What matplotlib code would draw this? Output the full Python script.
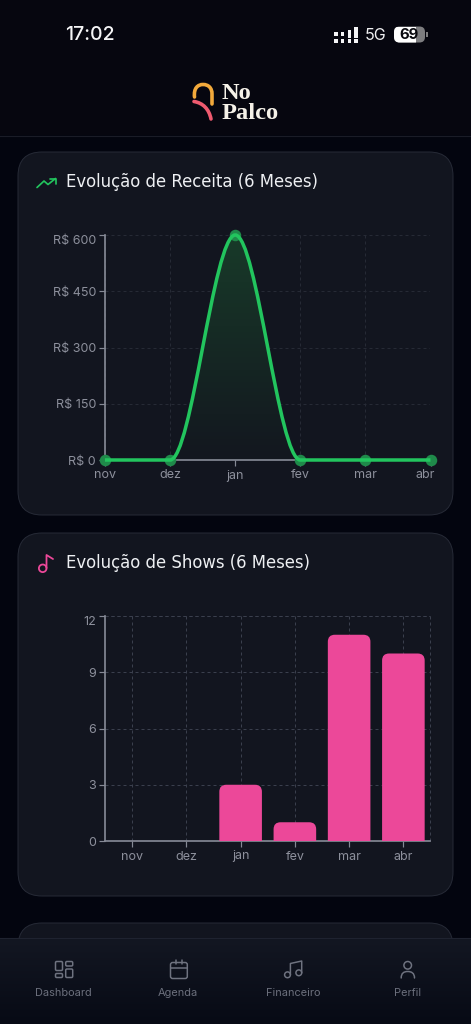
import numpy as np
import matplotlib
matplotlib.use('Agg')
import matplotlib.pyplot as plt
from matplotlib.patches import FancyBboxPatch, PathPatch, Circle, Rectangle
from matplotlib.path import Path
from matplotlib.transforms import ScaledTranslation

months = ['nov', 'dez', 'jan', 'fev', 'mar', 'abr']
receita = [0, 0, 600, 0, 0, 0]
shows = [0, 0, 3, 1, 11, 10]
receita_ticks = [0, 150, 300, 450, 600]
receita_labels = ['R$ 0', 'R$ 150', 'R$ 300', 'R$ 450', 'R$ 600']
shows_ticks = [0, 3, 6, 9, 12]
nav_labels = ['Dashboard', 'Agenda', 'Financeiro', 'Perfil']

W, H = 471, 1024
GREEN = '#22c55e'
PINK = '#ec4899'
AXIS = '#858995'
LABEL = '#8d909c'
CARD = '#12151f'
EDGE = '#262a36'
NAVTXT = '#6b6f7c'
NAVICON = '#6f7380'

plt.rcParams['font.family'] = ['Inter', 'DejaVu Sans']

fig = plt.figure(figsize=(W / 100, H / 100), dpi=100)
fig.patch.set_facecolor('#03050f')


def pt(px):
    return px * 0.72


def stroke(ax, xs, ys, color, width, z=3):
    ax.plot(xs, ys, color=color, lw=pt(width), solid_capstyle='round',
            solid_joinstyle='round', zorder=z)


def curve(ax, verts, color, width, z=3):
    # verts: first point then triples of bezier points
    codes = [Path.MOVETO] + [Path.CURVE4] * (len(verts) - 1)
    ax.add_patch(PathPatch(Path(verts, codes), fc='none', ec=color, lw=pt(width),
                           capstyle='round', zorder=z))


def box(ax, x0, y0, x1, y1, r, fc='none', ec='none', lw=1.0, z=2):
    ax.add_patch(FancyBboxPatch((x0 + r, y0 + r), x1 - x0 - 2 * r, y1 - y0 - 2 * r,
                                boxstyle='round,pad=%f,rounding_size=%f' % (r, r),
                                fc=fc, ec=ec, lw=pt(lw), zorder=z))


# page chrome in pixel coords
bg = fig.add_axes([0, 0, 1, 1], zorder=0)
bg.set_xlim(0, W)
bg.set_ylim(H, 0)
bg.axis('off')

bg.add_patch(Rectangle((0, 0), W, 135, fc='#06060f', ec='none', zorder=1))
bg.plot([0, W], [135.5, 135.5], color='#1a1c27', lw=0.8, zorder=1)

box(bg, 18, 152, 453, 515, 24, fc=CARD, ec=EDGE)
box(bg, 18, 533, 453, 896, 24, fc=CARD, ec=EDGE)
box(bg, 18, 923, 453, 1000, 24, fc=CARD, ec=EDGE)

# status bar
bg.text(89.5, 35, '17:02', color='#f4f4f6', fontsize=pt(19.5), fontweight='medium',
        ha='center', va='center', zorder=5)
for cx, rows in [(336, [33.5, 40.5]), (342.5, [33.5, 40.5]), (349.5, [33, 40.5]), (356, [40.5])]:
    for cy in rows:
        bg.add_patch(Rectangle((cx - 1.8, cy - 2), 3.6, 4, fc='#f4f4f6', ec='none', zorder=5))
bg.add_patch(Rectangle((354.2, 27), 3.6, 11, fc='#f4f4f6', ec='none', zorder=5))
bg.add_patch(Rectangle((347.7, 30), 3.6, 8, fc='#f4f4f6', ec='none', zorder=5))
bg.text(376, 35, '5G', color='#f0f0f2', fontsize=pt(16), ha='center', va='center', zorder=5)
box(bg, 394, 26.5, 425, 42.5, 5.5, fc='#7d7d80', z=4)
clip = FancyBboxPatch((399.5, 32), 20, 5, boxstyle='round,pad=5.5,rounding_size=5.5',
                      fc='none', ec='none', transform=bg.transData)
bg.add_patch(clip)
white = bg.add_patch(Rectangle((394, 26.5), 21.5, 16, fc='#ffffff', ec='none', zorder=5))
white.set_clip_path(clip)
bg.add_patch(Rectangle((426, 32), 1.5, 5, fc='#7d7d80', ec='none', zorder=5))
bg.text(409.5, 35, '69', color='#0a0a10', fontsize=pt(15), fontweight='bold',
        ha='center', va='center', zorder=6)

# logo
curve(bg, [(194.5, 97), (193.5, 88), (198, 84.5), (203, 84.5),
           (208.5, 84.5), (212, 88), (212, 94), (212, 97), (212, 101), (212, 104)],
      '#f2a93b', 3.6)
curve(bg, [(194, 101.5), (203, 103), (209, 109), (211, 119)], '#ef5a6f', 3.6)
bg.text(222, 99, 'No', color='#f5f1e8', fontsize=pt(24.5), family='Liberation Serif',
        fontweight='bold', ha='left', va='baseline', zorder=5)
bg.text(222, 119, 'Palco', color='#f5f1e8', fontsize=pt(24.5), family='Liberation Serif',
        fontweight='bold', ha='left', va='baseline', zorder=5)

# card titles
bg.text(66, 182, 'Evolução de Receita (6 Meses)', color='#eef0f3', fontsize=pt(16.5),
        family='DejaVu Sans', ha='left', va='center', zorder=5)
bg.text(66, 563.5, 'Evolução de Shows (6 Meses)', color='#eef0f3', fontsize=pt(16.5),
        family='DejaVu Sans', ha='left', va='center', zorder=5)
stroke(bg, [37, 44, 48, 55.5], [187.5, 181, 184.5, 178.5], GREEN, 1.7, 5)
stroke(bg, [50, 55.5, 55.5], [178.5, 178.5, 184], GREEN, 1.7, 5)
bg.add_patch(Circle((42.7, 568.3), 3.8, fc='none', ec=PINK, lw=pt(1.8), zorder=5))
stroke(bg, [46.5, 46.5, 53], [568, 555, 559], PINK, 1.8, 5)

# bottom nav
ramp = np.linspace(0, 1, 64).reshape(-1, 1)
nav_cm = matplotlib.colors.LinearSegmentedColormap.from_list('n', ['#131722', '#070a15'])
bg.imshow(ramp, extent=(0, W, 1024, 938), aspect='auto', zorder=8, cmap=nav_cm,
          interpolation='bilinear')
bg.set_xlim(0, W)
bg.set_ylim(H, 0)
bg.plot([0, W], [938, 938], color='#1f2330', lw=0.8, zorder=9)
for x, label in zip([63.5, 178, 293, 407.5], nav_labels):
    bg.text(x, 992.5, label, color=NAVTXT, fontsize=pt(11), ha='center', va='center', zorder=10)
for x0, y0, x1, y1 in [(55.5, 961.5, 62.5, 970.5), (55.5, 973.5, 62.5, 977.5),
                       (65.7, 961.5, 72.7, 966), (65.7, 969, 72.7, 977.5)]:
    box(bg, x0, y0, x1, y1, 1.2, ec=NAVICON, lw=1.5, z=10)
box(bg, 170.5, 962.5, 187.3, 978.5, 2.2, ec=NAVICON, lw=1.5, z=10)
stroke(bg, [170.5, 187.3], [967.5, 967.5], NAVICON, 1.5, 10)
stroke(bg, [175.7, 175.7], [960, 964], NAVICON, 1.5, 10)
stroke(bg, [182.3, 182.3], [960, 964], NAVICON, 1.5, 10)
bg.add_patch(Circle((287.5, 974.8), 2.9, fc='none', ec=NAVICON, lw=pt(1.5), zorder=10))
bg.add_patch(Circle((298.8, 972.8), 2.9, fc='none', ec=NAVICON, lw=pt(1.5), zorder=10))
stroke(bg, [290.4, 290.4, 301.7, 301.7], [974.8, 963.5, 961, 972.8], NAVICON, 1.5, 10)
bg.add_patch(Circle((407.7, 965.3), 3.8, fc='none', ec=NAVICON, lw=pt(1.5), zorder=10))
curve(bg, [(401.2, 978), (401.2, 973), (404, 971.5), (407.7, 971.5),
           (411.4, 971.5), (414.5, 973), (414.5, 978)], NAVICON, 1.5, 10)


def chart_axes(top, bottom):
    ax = fig.add_axes([105 / W, 1 - bottom / H, 325.5 / W, (bottom - top) / H], zorder=2)
    ax.patch.set_alpha(0)
    for s in ['top', 'right']:
        ax.spines[s].set_visible(False)
    for s in ['left', 'bottom']:
        ax.spines[s].set_color(AXIS)
        ax.spines[s].set_linewidth(pt(1.7))
    ax.tick_params(colors=AXIS, labelcolor=LABEL, labelsize=pt(12.5), length=pt(6), width=pt(1.2), pad=pt(3))
    ax.set_axisbelow(True)
    return ax


# receita line
ax1 = chart_axes(235, 460)
ax1.set_xlim(0, 5)
ax1.set_ylim(0, 600)
ax1.set_xticks(range(len(months)))
ax1.set_xticklabels(months)
ax1.set_yticks(receita_ticks)
ax1.set_yticklabels(receita_labels)
ax1.grid(True, color='#262a35', lw=pt(1), ls=(0, (3, 3)))
ax1.tick_params(axis='x', pad=pt(3.5))

# monotone curve: flat tangents at every point, as bezier handles a third of a step away
line_verts = [(0, receita[0])]
for i in range(1, len(receita)):
    line_verts += [(i - 1 + 1 / 3, receita[i - 1]), (i - 1 / 3, receita[i]), (i, receita[i])]
line_codes = [Path.MOVETO] + [Path.CURVE4] * (len(line_verts) - 1)
line_path = Path(line_verts, line_codes)

fill_verts = line_verts + [(5, 0), (0, 0), (0, 0)]
fill_codes = line_codes + [Path.LINETO, Path.LINETO, Path.CLOSEPOLY]
fill_patch = PathPatch(Path(fill_verts, fill_codes), fc='none', ec='none', transform=ax1.transData)
ax1.add_patch(fill_patch)
cm = matplotlib.colors.LinearSegmentedColormap.from_list('g', ['#13171f', '#183a29'])
grad = ax1.imshow(ramp, extent=(0, 5, 0, 600), aspect='auto', cmap=cm,
                  interpolation='bilinear', zorder=1, origin='lower')
grad.set_clip_path(fill_patch)
ax1.set_xlim(0, 5)
ax1.set_ylim(0, 600)

ax1.plot(range(len(months)), receita, 'o', color='#1f8a4a', ms=pt(11.5), mew=0, clip_on=False, zorder=5)
ax1.add_patch(PathPatch(line_path, fc='none', ec=GREEN, lw=pt(3.5), clip_on=False, zorder=6))

ax1.get_yticklabels()[-1].set_verticalalignment('top')
shift = ScaledTranslation(-5 / 100, 0, fig.dpi_scale_trans)
last = ax1.get_xticklabels()[-1]
last.set_transform(last.get_transform() + shift)

# shows bars
ax2 = chart_axes(616, 841)
ax2.set_xlim(-0.5, 5.5)
ax2.set_ylim(0, 12)
ax2.set_xticks(range(len(months)))
ax2.set_xticklabels(months)
ax2.set_yticks(shows_ticks)
ax2.grid(True, color='#3a3f4d', lw=pt(1), ls=(0, (3, 3)))
ax2.plot([-0.5, 5.5], [12, 12], color='#3a3f4d', lw=pt(1), ls=(0, (3, 3)), zorder=1, clip_on=False)
ax2.plot([5.5, 5.5], [0, 12], color='#3a3f4d', lw=pt(1), ls=(0, (3, 3)), zorder=1, clip_on=False)
ax2.get_yticklabels()[-1].set_verticalalignment('top')
ax2.tick_params(axis='x', pad=pt(3.5))

bar_w = 0.785
rx = 7 / (325.5 / 6)
ry = 7 / (225 / 12)
for i, v in enumerate(shows):
    if v == 0:
        continue
    l, r = i - bar_w / 2, i + bar_w / 2
    verts = [(l, 0), (l, v - ry), (l, v), (l + rx, v), (r - rx, v), (r, v), (r, v - ry), (r, 0), (l, 0)]
    codes = [Path.MOVETO, Path.LINETO, Path.CURVE3, Path.CURVE3, Path.LINETO,
             Path.CURVE3, Path.CURVE3, Path.LINETO, Path.CLOSEPOLY]
    ax2.add_patch(PathPatch(Path(verts, codes), fc=PINK, ec='none', zorder=3))

fig.savefig('out.png', dpi=100, facecolor=fig.get_facecolor())
